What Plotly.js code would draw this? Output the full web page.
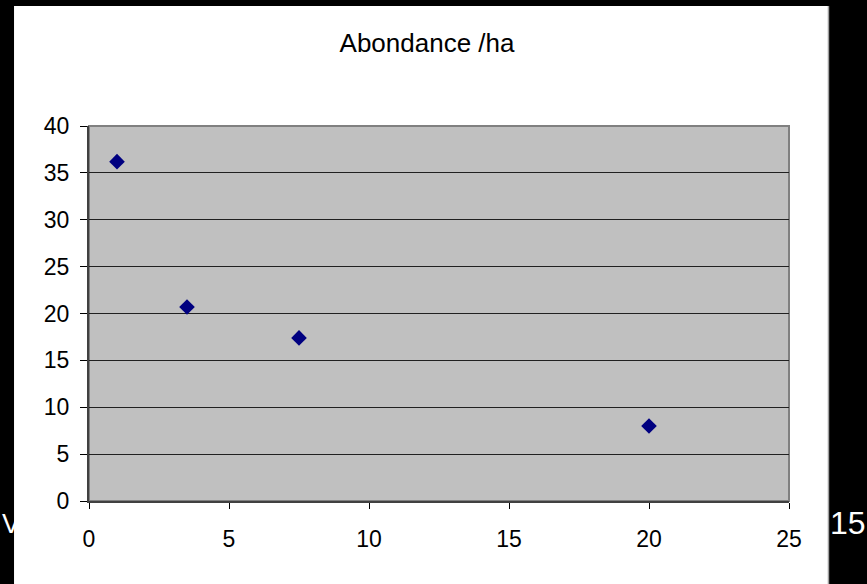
<!DOCTYPE html>
<html>
<head>
<meta charset="utf-8">
<script src="https://cdn.plot.ly/plotly-3.0.1.min.js"></script>
<style>
  html, body { margin: 0; padding: 0; background: #000; }
  #chart { width: 867px; height: 584px; }
</style>
</head>
<body>
<div id="chart"></div>
<script>
// Data
const xValues = [1, 3.5, 7.5, 20];
const abondance = [36.2, 20.7, 17.4, 8.0];
const chartTitle = 'Abondance /ha';
const xTicks = [0, 5, 10, 15, 20, 25];
const yTicks = [0, 5, 10, 15, 20, 25, 30, 35, 40];
const leftSlideText = 'V';
const rightSlideText = '15';

const FONT = 'Liberation Sans, Arial, sans-serif';

const trace = {
  x: xValues,
  y: abondance,
  type: 'scatter',
  mode: 'markers',
  marker: { symbol: 'diamond', size: 12, color: '#000080', line: { width: 0 } },
  hoverinfo: 'x+y',
  showlegend: false
};

const layout = {
  width: 867,
  height: 584,
  autosize: false,
  margin: { l: 89, r: 78, t: 126, b: 83, pad: 0 },
  paper_bgcolor: '#000000',
  plot_bgcolor: 'rgba(0,0,0,0)',
  font: { family: FONT, color: '#000000', size: 20 },
  title: {
    text: chartTitle,
    font: { family: FONT, size: 26, color: '#000000' },
    x: 0.4829, xref: 'paper', xanchor: 'center',
    y: 1 - 43 / 584, yref: 'container', yanchor: 'middle'
  },
  xaxis: {
    range: [0, 25],
    tickvals: xTicks,
    ticktext: xTicks.map(String),
    ticks: 'outside', ticklen: 6, tickwidth: 1, tickcolor: '#000000',
    showgrid: false,
    zeroline: false,
    showline: true, linecolor: '#404040', linewidth: 2,
    tickfont: { family: FONT, size: 23, color: '#000000' },
    ticklabelstandoff: 10,
    fixedrange: true
  },
  yaxis: {
    range: [0, 40],
    tickvals: yTicks,
    ticktext: yTicks.map(String),
    ticks: 'outside', ticklen: 7, tickwidth: 1, tickcolor: '#000000',
    showgrid: true, gridcolor: '#202020', gridwidth: 1,
    zeroline: false,
    showline: true, linecolor: '#404040', linewidth: 2,
    tickfont: { family: FONT, size: 23, color: '#000000' },
    ticklabelstandoff: 6,
    fixedrange: true
  },
  shapes: [
    // white chart sheet
    { type: 'rect', xref: 'paper', yref: 'paper', layer: 'below',
      x0: -0.1071, x1: 1.0571, y0: -0.3, y1: 1.32,
      fillcolor: '#FFFFFF', line: { width: 0 } },
    // right edge of the sheet
    { type: 'line', xref: 'paper', yref: 'paper', layer: 'below',
      x0: 1.0564, x1: 1.0564, y0: -0.3, y1: 1.32,
      line: { color: '#A0A0A0', width: 1.5 } },
    // grey plot area with grey frame
    { type: 'rect', xref: 'x domain', yref: 'y domain', layer: 'below',
      x0: 0, x1: 1, y0: 0, y1: 1,
      fillcolor: '#C0C0C0', line: { color: '#808080', width: 2 } }
  ],
  annotations: [
    { text: leftSlideText, xref: 'paper', yref: 'paper',
      x: (0 - 89) / 700, xanchor: 'left', y: (501 - 524) / 375, yanchor: 'middle',
      showarrow: false, font: { family: FONT, size: 27, color: '#FFFFFF' } },
    { text: rightSlideText, xref: 'paper', yref: 'paper',
      x: (828 - 89) / 700, xanchor: 'left', y: (501 - 523) / 375, yanchor: 'middle',
      showarrow: false, font: { family: FONT, size: 32, color: '#FFFFFF' } }
  ]
};

Plotly.newPlot('chart', [trace], layout, { displayModeBar: false, staticPlot: true });
</script>
</body>
</html>
